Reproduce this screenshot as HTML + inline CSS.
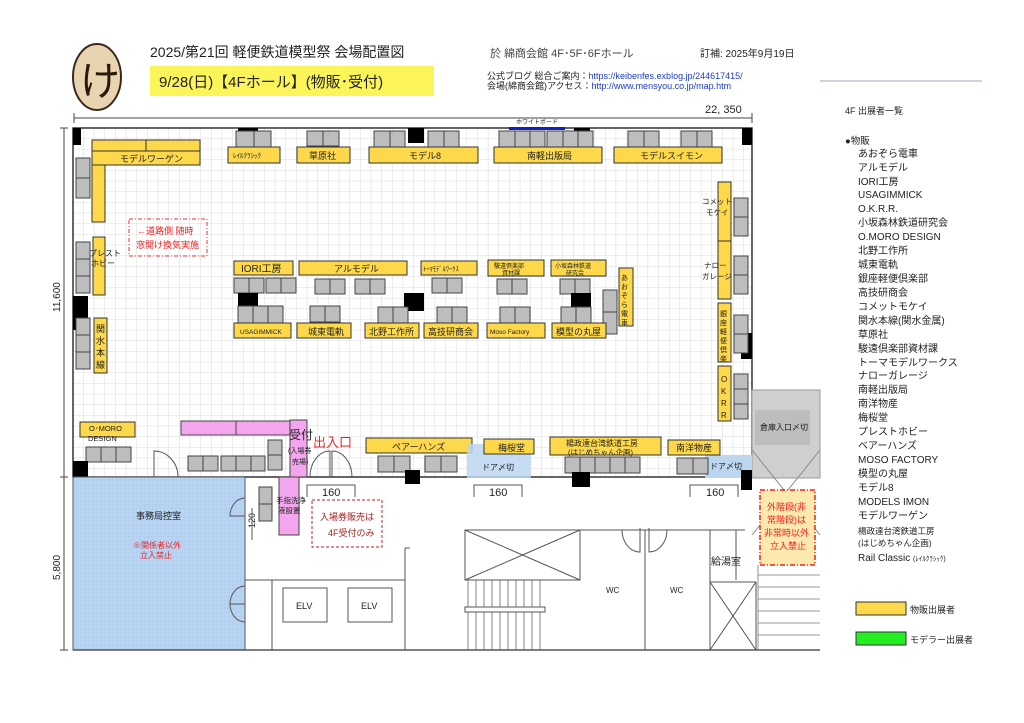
<!DOCTYPE html>
<html><head><meta charset="utf-8"><style>
html,body{margin:0;padding:0;background:#fff}
svg{display:block}
text{font-family:"Liberation Sans","Noto Sans CJK JP",sans-serif;fill:#222}
.y{fill:#fdd84a;stroke:#333;stroke-width:1}
.g{fill:#bdbdbd;stroke:#444;stroke-width:1}
.k{fill:#000}
.p{fill:#f3a6ee;stroke:#444;stroke-width:1}
.w{fill:none;stroke:#555;stroke-width:1}
.s{font-size:9px}
.l{font-size:10px}
</style></head><body>
<svg width="1024" height="723" viewBox="0 0 1024 723" xmlns="http://www.w3.org/2000/svg">
<defs>
<pattern id="grid" x="73" y="128" width="10.65" height="10.65" patternUnits="userSpaceOnUse">
<path d="M10.65 0V10.65H0" fill="none" stroke="#cfcfcf" stroke-width="0.8"/></pattern>
<pattern id="bgrid" x="73" y="477" width="4" height="4" patternUnits="userSpaceOnUse">
<rect width="4" height="4" fill="#b8d4f2"/><path d="M4 0V4H0" fill="none" stroke="#a6c3e6" stroke-width="0.5"/></pattern>
</defs>
<!-- header -->
<ellipse cx="97" cy="77" rx="24" ry="33" fill="#e9d4b2" stroke="#3a2a1a" stroke-width="2"/>
<text x="80" y="95" style="font-size:40px;fill:#2a1a0a">け</text>
<text x="150" y="57" style="font-size:14px">2025/第21回  軽便鉄道模型祭  会場配置図</text>
<rect x="150" y="66" width="284" height="30" fill="#fbf55a"/>
<text x="159" y="87" style="font-size:15px">9/28(日)【4Fホール】(物販･受付)</text>
<text x="490" y="57" style="font-size:11px;fill:#444">於 綿商会館 4F･5F･6Fホール</text>
<text x="700" y="57" style="font-size:10px">訂補:    2025年9月19日</text>
<text x="487" y="79" class="s">公式ブログ 総合ご案内：<tspan style="fill:#1a3ccf">https://keibenfes.exblog.jp/244617415/</tspan></text>
<text x="487" y="89" class="s">会場(綿商会館)アクセス：<tspan style="fill:#1a3ccf">http://www.mensyou.co.jp/map.htm</tspan></text>
<line x1="820" y1="81" x2="982" y2="81" stroke="#9ab" stroke-width="1"/>
<!-- dimension top -->
<line x1="74" y1="118" x2="752" y2="118" stroke="#444"/>
<line x1="74" y1="113" x2="74" y2="123" stroke="#444"/><line x1="752" y1="113" x2="752" y2="123" stroke="#444"/>
<text x="705" y="113" style="font-size:11px">22, 350</text>
<text x="516" y="124" style="font-size:6px">ホワイトボード</text>
<!-- hall -->
<rect x="73" y="128" width="679" height="349" fill="url(#grid)"/>
<rect x="73" y="128" width="679" height="349" fill="none" stroke="#333" stroke-width="1.5"/>
<line x1="64" y1="128" x2="64" y2="650" stroke="#444"/>
<line x1="60" y1="128" x2="68" y2="128" stroke="#444"/><line x1="60" y1="477" x2="68" y2="477" stroke="#444"/><line x1="60" y1="650" x2="68" y2="650" stroke="#444"/>
<text transform="translate(60,312) rotate(-90)" style="font-size:10px">11,600</text>
<text transform="translate(60,580) rotate(-90)" style="font-size:10px">5,800</text>
<rect x="509" y="127" width="56" height="3" fill="#1020c0"/>
<!-- black pillars -->
<rect class="k" x="73" y="128" width="8" height="17"/><rect class="k" x="238" y="128" width="20" height="9"/>
<rect class="k" x="408" y="128" width="16" height="15"/><rect class="k" x="574" y="128" width="16" height="9"/>
<rect class="k" x="742" y="128" width="10" height="17"/>
<!-- top row -->
<rect class="y" x="92" y="140" width="54" height="11"/><rect class="y" x="146" y="140" width="54" height="11"/>
<rect class="y" x="92" y="151" width="108" height="14"/><text x="120" y="162" class="s">モデルワーゲン</text>
<rect class="y" x="92" y="165" width="13" height="57"/>
<rect class="g" x="76" y="158" width="14" height="20"/><rect class="g" x="76" y="178" width="14" height="20"/>
<rect class="g" x="236" y="131" width="18" height="16"/><rect class="g" x="254" y="131" width="17" height="16"/>
<rect class="y" x="228" y="147" width="52" height="16"/><text x="233" y="158" style="font-size:7px">ﾚｲﾙｸﾗｼｯｸ</text>
<rect class="g" x="307" y="131" width="16" height="15"/><rect class="g" x="323" y="131" width="16" height="15"/>
<rect class="y" x="297" y="147" width="53" height="16"/><text x="309" y="159" class="s">草原社</text>
<rect class="g" x="374" y="131" width="16" height="16"/><rect class="g" x="390" y="131" width="15" height="16"/>
<rect class="g" x="428" y="131" width="16" height="16"/><rect class="g" x="444" y="131" width="15" height="16"/>
<rect class="y" x="369" y="147" width="109" height="16"/><text x="409" y="159" class="s">モデル8</text>
<rect class="g" x="499" y="131" width="16" height="16"/><rect class="g" x="515" y="131" width="15" height="16"/><rect class="g" x="530" y="131" width="15" height="16"/>
<rect class="g" x="547" y="131" width="16" height="16"/><rect class="g" x="563" y="131" width="15" height="16"/><rect class="g" x="578" y="131" width="15" height="16"/>
<rect class="y" x="494" y="147" width="108" height="16"/><text x="527" y="159" class="s">南軽出版局</text>
<rect class="g" x="628" y="131" width="16" height="16"/><rect class="g" x="644" y="131" width="15" height="16"/>
<rect class="g" x="681" y="131" width="16" height="16"/><rect class="g" x="697" y="131" width="15" height="16"/>
<rect class="y" x="614" y="147" width="108" height="16"/><text x="640" y="159" class="s">モデルスイモン</text>
<!-- left side -->
<rect class="g" x="76" y="242" width="14" height="17"/><rect class="g" x="76" y="259" width="14" height="17"/><rect class="g" x="76" y="276" width="14" height="17"/>
<rect class="y" x="93" y="237" width="12" height="58"/><text x="89" y="256" style="font-size:8px">プレスト</text><text x="91" y="266" style="font-size:8px">ホビー</text>
<rect class="k" x="73" y="296" width="15" height="34"/>
<rect class="g" x="76" y="318" width="14" height="17"/><rect class="g" x="76" y="335" width="14" height="17"/><rect class="g" x="76" y="352" width="14" height="17"/>
<rect class="y" x="94" y="318" width="13" height="55"/>
<text x="96" y="332" class="s">関</text><text x="96" y="344" class="s">水</text><text x="96" y="356" class="s">本</text><text x="96" y="368" class="s">線</text>
<rect x="129" y="219" width="78" height="37" fill="none" stroke="#e33" stroke-dasharray="4,2,1,2"/>
<text x="137" y="234" style="font-size:9px;fill:#e22">←道路側 随時</text>
<text x="136" y="248" style="font-size:9px;fill:#e22">窓開け換気実施</text>
<!-- middle -->
<rect class="y" x="234" y="261" width="59" height="14"/><text x="241" y="272" class="l">IORI工房</text>
<rect class="y" x="299" y="261" width="108" height="14"/><text x="334" y="272" class="s">アルモデル</text>
<rect class="y" x="421" y="261" width="56" height="14"/><text x="423" y="271" style="font-size:6.5px">ﾄｰﾏﾓﾃﾞﾙﾜｰｸｽ</text>
<rect class="y" x="488" y="260" width="56" height="16"/><text x="494" y="268" style="font-size:6px">駿遠倶楽部</text><text x="502" y="275" style="font-size:6px">資材課</text>
<rect class="y" x="551" y="260" width="55" height="16"/><text x="555" y="268" style="font-size:6px">小坂森林鉄道</text><text x="566" y="275" style="font-size:6px">研究会</text>
<rect class="y" x="619" y="268" width="14" height="58"/>
<text x="621" y="280" style="font-size:7px">あ</text><text x="621" y="289" style="font-size:7px">お</text><text x="621" y="298" style="font-size:7px">ぞ</text><text x="621" y="307" style="font-size:7px">ら</text><text x="621" y="316" style="font-size:7px">電</text><text x="621" y="325" style="font-size:7px">車</text>
<g>
<rect class="g" x="234" y="278" width="15" height="15"/><rect class="g" x="249" y="278" width="15" height="15"/><rect class="g" x="266" y="278" width="15" height="15"/><rect class="g" x="281" y="278" width="15" height="15"/>
<rect class="g" x="315" y="279" width="15" height="15"/><rect class="g" x="330" y="279" width="15" height="15"/>
<rect class="g" x="355" y="279" width="15" height="15"/><rect class="g" x="370" y="279" width="15" height="15"/>
<rect class="g" x="432" y="278" width="15" height="15"/><rect class="g" x="447" y="278" width="15" height="15"/>
<rect class="g" x="497" y="279" width="15" height="15"/><rect class="g" x="512" y="279" width="15" height="15"/>
<rect class="g" x="560" y="279" width="15" height="15"/><rect class="g" x="575" y="279" width="15" height="15"/>
<rect class="g" x="603" y="290" width="14" height="22"/><rect class="g" x="603" y="312" width="14" height="22"/>
<rect class="k" x="238" y="293" width="20" height="18"/><rect class="k" x="404" y="293" width="20" height="18"/><rect class="k" x="571" y="293" width="20" height="18"/>
<rect class="g" x="238" y="306" width="15" height="17"/><rect class="g" x="253" y="306" width="15" height="17"/><rect class="g" x="268" y="306" width="15" height="17"/>
<rect class="g" x="310" y="306" width="15" height="16"/><rect class="g" x="325" y="306" width="15" height="16"/>
<rect class="g" x="378" y="307" width="15" height="16"/><rect class="g" x="393" y="307" width="15" height="16"/>
<rect class="g" x="437" y="307" width="15" height="16"/><rect class="g" x="452" y="307" width="15" height="16"/>
<rect class="g" x="500" y="307" width="15" height="16"/><rect class="g" x="515" y="307" width="15" height="16"/>
<rect class="g" x="561" y="307" width="15" height="16"/><rect class="g" x="576" y="307" width="15" height="16"/>
</g>
<rect class="y" x="234" y="323" width="57" height="15"/><text x="240" y="334" style="font-size:6.5px">USAGIMMICK</text>
<rect class="y" x="297" y="323" width="54" height="15"/><text x="308" y="335" class="s">城東電軌</text>
<rect class="y" x="365" y="323" width="54" height="15"/><text x="369" y="335" class="s">北野工作所</text>
<rect class="y" x="424" y="323" width="54" height="15"/><text x="428" y="335" class="s">高技研商会</text>
<rect class="y" x="487" y="323" width="58" height="15"/><text x="490" y="334" style="font-size:6.5px">Moso Factory</text>
<rect class="y" x="552" y="323" width="54" height="15"/><text x="556" y="335" class="s">模型の丸屋</text>
<!-- right side -->
<rect class="y" x="718" y="182" width="13" height="60"/><text x="702" y="204" style="font-size:7.5px">コメット</text><text x="706" y="215" style="font-size:7.5px">モケイ</text>
<rect class="g" x="734" y="198" width="14" height="19"/><rect class="g" x="734" y="217" width="14" height="19"/>
<rect class="y" x="718" y="241" width="13" height="58"/><text x="704" y="268" style="font-size:7.5px">ナロー</text><text x="702" y="279" style="font-size:7.5px">ガレージ</text>
<rect class="g" x="734" y="256" width="14" height="19"/><rect class="g" x="734" y="275" width="14" height="19"/>
<rect class="k" x="741" y="333" width="11" height="26"/>
<rect class="y" x="718" y="303" width="13" height="59"/>
<text x="720" y="316" style="font-size:7px">銀</text><text x="720" y="325" style="font-size:7px">座</text><text x="720" y="334" style="font-size:7px">軽</text><text x="720" y="343" style="font-size:7px">便</text><text x="720" y="352" style="font-size:7px">倶</text><text x="720" y="361" style="font-size:7px">楽</text>
<rect class="g" x="734" y="315" width="14" height="19"/><rect class="g" x="734" y="334" width="14" height="19"/>
<rect class="y" x="718" y="366" width="13" height="55"/>
<text x="721" y="382" style="font-size:8px">O</text><text x="721" y="394" style="font-size:8px">K</text><text x="721" y="406" style="font-size:8px">R</text><text x="721" y="418" style="font-size:8px">R</text>
<rect class="g" x="734" y="374" width="14" height="15"/><rect class="g" x="734" y="389" width="14" height="15"/><rect class="g" x="734" y="404" width="14" height="15"/>
<!-- storage area -->
<rect x="752" y="390" width="68" height="88" fill="#cfcfcf" stroke="#999"/>
<rect x="755" y="410" width="55" height="35" fill="#bdbdbd"/>
<text x="760" y="430" style="font-size:8px">倉庫入口〆切</text>
<line x1="752" y1="450" x2="820" y2="535" stroke="#888"/><line x1="820" y1="450" x2="752" y2="535" stroke="#888"/>
<!-- bottom hall strip -->
<rect class="y" x="80" y="422" width="55" height="15"/><text x="89" y="431" style="font-size:7.5px">O･MORO</text><text x="88" y="441" style="font-size:7.5px">DESIGN</text>
<rect class="g" x="86" y="447" width="15" height="15"/><rect class="g" x="101" y="447" width="15" height="15"/><rect class="g" x="116" y="447" width="15" height="15"/>
<path d="M154 477V451A24 26 0 0 1 178 477" class="w"/>
<rect class="g" x="188" y="456" width="15" height="15"/><rect class="g" x="203" y="456" width="15" height="15"/>
<rect class="g" x="221" y="456" width="15" height="15"/><rect class="g" x="236" y="456" width="15" height="15"/><rect class="g" x="251" y="456" width="14" height="15"/>
<rect class="p" x="181" y="421" width="55" height="14"/><rect class="p" x="236" y="421" width="54" height="14"/>
<rect class="p" x="290" y="420" width="17" height="57"/>
<rect class="g" x="268" y="440" width="14" height="15"/><rect class="g" x="268" y="455" width="14" height="15"/>
<text x="289" y="439" style="font-size:12px">受付</text>
<text x="288" y="453" style="font-size:7px">(入場券</text><text x="292" y="464" style="font-size:7px">売場)</text>
<text x="313" y="447" style="font-size:13px;fill:#e22">出入口</text>
<path d="M310 477A20 26 0 0 1 330 451V477M352 477A20 26 0 0 0 332 451V477" class="w"/>
<rect class="y" x="366" y="438" width="106" height="15"/><text x="392" y="450" class="s">ペアーハンズ</text>
<rect x="467" y="444" width="64" height="34" fill="#bcd6f0" opacity="0.85"/>
<text x="482" y="470" style="font-size:8px">ドア〆切</text>
<rect class="y" x="484" y="439" width="50" height="15"/><text x="498" y="451" class="s">梅桜堂</text>
<rect class="g" x="378" y="456" width="16" height="16"/><rect class="g" x="394" y="456" width="16" height="16"/>
<rect class="g" x="425" y="456" width="16" height="16"/><rect class="g" x="441" y="456" width="16" height="16"/>
<rect class="k" x="405" y="470" width="15" height="14"/>
<rect class="y" x="550" y="437" width="111" height="18"/><text x="566" y="446" style="font-size:8px">楊政達台湾鉄道工房</text><text x="568" y="455" style="font-size:7.5px">(はじめちゃん企画)</text>
<rect class="g" x="565" y="457" width="15" height="16"/><rect class="g" x="580" y="457" width="15" height="16"/><rect class="g" x="595" y="457" width="15" height="16"/><rect class="g" x="610" y="457" width="15" height="16"/><rect class="g" x="625" y="457" width="15" height="16"/>
<rect class="k" x="572" y="472" width="18" height="15"/>
<rect x="705" y="455" width="47" height="23" fill="#bcd6f0"/>
<rect class="y" x="668" y="440" width="52" height="15"/><text x="676" y="451" class="s">南洋物産</text>
<rect class="g" x="677" y="458" width="16" height="16"/><rect class="g" x="693" y="458" width="15" height="16"/>
<text x="710" y="469" style="font-size:8px">ドア〆切</text>
<rect class="k" x="741" y="470" width="11" height="20"/>
<rect class="k" x="73" y="461" width="15" height="16"/>
<!-- lower area -->
<rect x="73" y="477" width="172" height="173" fill="url(#bgrid)" stroke="#555"/>
<text x="136" y="519" class="s">事務局控室</text>
<text x="133" y="548" style="font-size:8px;fill:#e22">※関係者以外</text><text x="140" y="558" style="font-size:8px;fill:#e22">立入禁止</text>
<path d="M245 498A15 18 0 0 0 230 516H245M245 586A15 18 0 0 0 230 604H245M245 622A15 18 0 0 1 230 604" class="w"/>
<rect class="g" x="259" y="487" width="13" height="17"/><rect class="g" x="259" y="504" width="13" height="17"/>
<rect class="p" x="279" y="477" width="20" height="58"/>
<text x="276" y="503" style="font-size:7.5px">手指洗浄</text><text x="278" y="513" style="font-size:7.5px">液設置</text>
<text transform="translate(255,528) rotate(-90)" style="font-size:9px">120</text>
<line x1="252" y1="508" x2="252" y2="540" stroke="#555"/>
<path d="M307 497V485H355V497M474 497V485H522V497M690 497V485H738V497" class="w"/>
<text x="322" y="496" style="font-size:11px">160</text><text x="489" y="496" style="font-size:11px">160</text><text x="706" y="496" style="font-size:11px">160</text>
<rect x="312" y="500" width="70" height="47" fill="none" stroke="#b22" stroke-dasharray="3,2"/>
<text x="320" y="520" style="font-size:9px;fill:#a22">入場券販売は</text><text x="328" y="536" style="font-size:9px;fill:#a22">4F受付のみ</text>
<rect x="760" y="490" width="55" height="75" fill="#fbe9b0" stroke="#e22" stroke-dasharray="5,2,1,2" stroke-width="1.5"/>
<text x="767" y="510" style="font-size:9px;fill:#e22">外階段(非</text><text x="767" y="523" style="font-size:9px;fill:#e22">常階段)は</text>
<text x="764" y="536" style="font-size:9px;fill:#e22">非常時以外</text><text x="770" y="549" style="font-size:9px;fill:#e22">立入禁止</text>
<!-- walls -->
<line x1="73" y1="650" x2="820" y2="650" stroke="#555" stroke-width="1.5"/>
<path d="M245 580H405M272 580V650M405 548V650M405 548H410" class="w"/>
<rect x="283" y="588" width="44" height="34" class="w"/><rect x="348" y="588" width="44" height="34" class="w"/>
<text x="296" y="609" class="s">ELV</text><text x="361" y="609" class="s">ELV</text>
<rect x="465" y="530" width="115" height="50" class="w"/>
<path d="M465 530L580 580M580 530L465 580" class="w"/>
<path d="M468 580V650M476 580V650M484 580V650M492 580V650M500 580V650M508 580V650M516 580V650M524 580V650M532 580V650M540 580V650" stroke="#666" stroke-width="0.8"/>
<rect x="465" y="607" width="80" height="5" fill="#fff" stroke="#555"/>
<path d="M580 530H710V650M645 530V650M710 530H745M736 530V580" class="w"/>
<path d="M622 530A18 22 0 0 0 640 552V528M667 530A18 22 0 0 1 649 552V528" class="w"/>
<text x="606" y="593" style="font-size:8px">WC</text><text x="670" y="593" style="font-size:8px">WC</text>
<text x="711" y="565" class="l">給湯室</text>
<rect x="710" y="582" width="46" height="68" class="w"/><path d="M710 582L756 650M756 582L710 650" class="w"/>
<path d="M758 575H820M758 587H820M758 599H820M758 611H820M758 623H820M758 635H820M758 565V650" stroke="#777" stroke-width="0.8" fill="none"/>
<!-- legend -->
<text x="845" y="114" style="font-size:9px">4F 出展者一覧</text>
<text x="845" y="144" style="font-size:9.5px">●物販</text>
<g style="font-size:10px">
<text x="858" y="157">あおぞら電車</text><text x="858" y="171">アルモデル</text><text x="858" y="185">IORI工房</text>
<text x="858" y="198">USAGIMMICK</text><text x="858" y="212">O.K.R.R.</text><text x="858" y="226">小坂森林鉄道研究会</text>
<text x="858" y="240">O.MORO DESIGN</text><text x="858" y="254">北野工作所</text><text x="858" y="268">城東電軌</text>
<text x="858" y="282">銀座軽便倶楽部</text><text x="858" y="296">高技研商会</text><text x="858" y="310">コメットモケイ</text>
<text x="858" y="324">関水本線(関水金属)</text><text x="858" y="338">草原社</text><text x="858" y="352">駿遠倶楽部資材課</text>
<text x="858" y="366">トーマモデルワークス</text><text x="858" y="379">ナローガレージ</text><text x="858" y="393">南軽出版局</text>
<text x="858" y="407">南洋物産</text><text x="858" y="421">梅桜堂</text><text x="858" y="435">プレストホビー</text>
<text x="858" y="449">ベアーハンズ</text><text x="858" y="463">MOSO FACTORY</text><text x="858" y="477">模型の丸屋</text>
<text x="858" y="491">モデル8</text><text x="858" y="505">MODELS  IMON</text><text x="858" y="519">モデルワーゲン</text>
</g>
<text x="858" y="534" style="font-size:8.5px">楊政達台湾鉄道工房</text>
<text x="858" y="546" style="font-size:8.5px">(はじめちゃん企画)</text>
<text x="858" y="561" style="font-size:10px">Rail Classic <tspan style="font-size:7px">(ﾚｲﾙｸﾗｼｯｸ)</tspan></text>
<rect x="856" y="602" width="50" height="13" fill="#fdd84a" stroke="#333"/>
<text x="910" y="613" style="font-size:9px">物販出展者</text>
<rect x="856" y="632" width="50" height="13" fill="#22ee22" stroke="#333"/>
<text x="910" y="643" style="font-size:9px">モデラー出展者</text>
</svg>
</body></html>
